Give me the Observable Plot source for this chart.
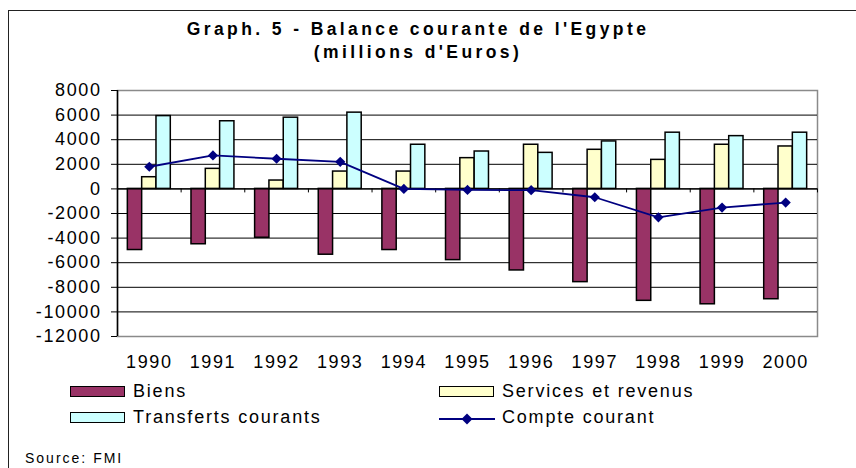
<!DOCTYPE html>
<html>
<head>
<meta charset="utf-8">
<script src="https://cdn.jsdelivr.net/npm/d3@7"></script>
<script src="https://cdn.jsdelivr.net/npm/@observablehq/plot@0.6"></script>
<style>
  html, body { margin: 0; padding: 0; background: #fff; }
  #wrap { position: relative; width: 856px; height: 468px; overflow: hidden; font-family: "Liberation Sans", Arial, sans-serif; color: #000; }
  #frameTop { position: absolute; left: 8px; top: 10px; width: 860px; height: 0; border-top: 1.5px solid #222; }
  #frameLeft { position: absolute; left: 8px; top: 10px; width: 0; height: 470px; border-left: 1.5px solid #222; }
  #title { position: absolute; left: 0; top: 18px; width: 836px; text-align: center; font-weight: bold; font-size: 17.5px; line-height: 23px; letter-spacing: 3.4px; }
  #chart { position: absolute; left: 0; top: 80px; }
  .leg { position: absolute; font-size: 18px; line-height: 18px; letter-spacing: 1.8px; white-space: nowrap; }
  .sw { position: absolute; width: 53px; height: 9px; border: 1.5px solid #000; }
  #source { position: absolute; left: 25px; top: 451px; font-size: 14px; line-height: 14px; letter-spacing: 2px; }
</style>
</head>
<body>
<div id="wrap">
  <div id="frameTop"></div>
  <div id="frameLeft"></div>
  <div id="title">Graph. 5 - Balance courante de l'Egypte<br>(millions d'Euros)</div>
  <div id="chart"></div>
  <div id="legend"></div>
  <div id="source">Source: FMI</div>
</div>
<script>
// ---- Data (millions d'Euros) ----
const years       = [1990, 1991, 1992, 1993, 1994, 1995, 1996, 1997, 1998, 1999, 2000];
const biens       = [-4970, -4500, -3970, -5350, -4970, -5790, -6630, -7580, -9100, -9380, -8970];
const services    = [950, 1630, 680, 1410, 1410, 2500, 3590, 3180, 2360, 3590, 3450];
const transferts  = [5920, 5500, 5790, 6200, 3590, 3040, 2930, 3860, 4570, 4290, 4570];
const compte      = [1800, 2720, 2450, 2200, 0, -80, -100, -680, -2310, -1520, -1110];
const yTicks      = [-12000, -10000, -8000, -6000, -4000, -2000, 0, 2000, 4000, 6000, 8000];
const seriesNames = ["Biens", "Services et revenus", "Transferts courants", "Compte courant"];
const seriesColors = ["#993366", "#FFFFCC", "#CCFFFF", "#000080"];

// ---- Build tables ----
const barSeries = [biens, services, transferts];
const barW = 0.225; // bar width in category units
const bars = [];
barSeries.forEach((vals, s) => {
  vals.forEach((v, i) => {
    const left = years[i] - 1.5 * barW + s * barW;
    bars.push({year: years[i], x1: left, x2: left + barW, value: v, series: seriesNames[s], color: seriesColors[s]});
  });
});
const lineData = years.map((y, i) => ({year: y, value: compte[i]}));
const boundaries = years.map(y => y - 0.5).concat([years[years.length - 1] + 0.5]);
const xDomain = [years[0] - 0.5, years[years.length - 1] + 0.5];

const chart = Plot.plot({
  width: 856,
  height: 300,
  marginTop: 10,
  marginBottom: 44,
  marginLeft: 117,
  marginRight: 39,
  style: {fontFamily: "'Liberation Sans', Arial, sans-serif", fontSize: "18px", letterSpacing: "1.6px", color: "#000", background: "transparent"},
  x: {domain: xDomain, label: null},
  y: {domain: [yTicks[0], yTicks[yTicks.length - 1]], label: null},
  marks: [
    Plot.frame({stroke: "#8a8a8a", strokeWidth: 1.5}),
    Plot.ruleY(yTicks.slice(1, -1), {stroke: "#000", strokeWidth: 1}),
    Plot.rect(bars, {x1: "x1", x2: "x2", y1: 0, y2: "value", fill: "color", stroke: "#000", strokeWidth: 1.5}),
    Plot.ruleY([0], {stroke: "#000", strokeWidth: 1.2}),
    Plot.ruleX(boundaries.slice(1), {y1: 0, y2: 0, insetBottom: -4, stroke: "#000", strokeWidth: 1}),
    Plot.ruleX([xDomain[0]], {stroke: "#000", strokeWidth: 1.5}),
    Plot.line(lineData, {x: "year", y: "value", stroke: seriesColors[3], strokeWidth: 1.8}),
    Plot.dot(lineData, {x: "year", y: "value", symbol: "diamond2", r: 4.6, fill: seriesColors[3], stroke: "none"}),
    Plot.axisY({ticks: yTicks, tickSize: 6, tickPadding: 10, tickFormat: d => String(d), fontSize: 18, label: null}),
    Plot.axisX({ticks: years, tickSize: 0, tickPadding: 19, tickFormat: d => String(d), fontSize: 18, label: null})
  ]
});
document.getElementById("chart").appendChild(chart);

// ---- Legend ----
const legend = document.getElementById("legend");
const legendPos = [
  {sx: 70, sy: 386, tx: 133, ty: 382},
  {sx: 439, sy: 386, tx: 502, ty: 382},
  {sx: 70, sy: 412, tx: 133, ty: 408},
  {sx: 439, sy: 412, tx: 502, ty: 408}
];
seriesNames.forEach((name, i) => {
  const p = legendPos[i];
  if (i < 3) {
    const sw = document.createElement("div");
    sw.className = "sw";
    sw.style.left = p.sx + "px";
    sw.style.top = p.sy + "px";
    sw.style.background = seriesColors[i];
    legend.appendChild(sw);
  } else {
    const ns = "http://www.w3.org/2000/svg";
    const svg = document.createElementNS(ns, "svg");
    svg.setAttribute("width", 58);
    svg.setAttribute("height", 14);
    svg.style.position = "absolute";
    svg.style.left = p.sx + "px";
    svg.style.top = (p.sy) + "px";
    const ln = document.createElementNS(ns, "line");
    ln.setAttribute("x1", 0); ln.setAttribute("x2", 56);
    ln.setAttribute("y1", 7); ln.setAttribute("y2", 7);
    ln.setAttribute("stroke", seriesColors[3]); ln.setAttribute("stroke-width", 1.8);
    svg.appendChild(ln);
    const dm = document.createElementNS(ns, "path");
    dm.setAttribute("d", "M28,1.5L33.5,7L28,12.5L22.5,7Z");
    dm.setAttribute("fill", seriesColors[3]);
    svg.appendChild(dm);
    legend.appendChild(svg);
  }
  const t = document.createElement("div");
  t.className = "leg";
  t.style.left = p.tx + "px";
  t.style.top = p.ty + "px";
  t.textContent = name;
  legend.appendChild(t);
});
</script>
</body>
</html>
